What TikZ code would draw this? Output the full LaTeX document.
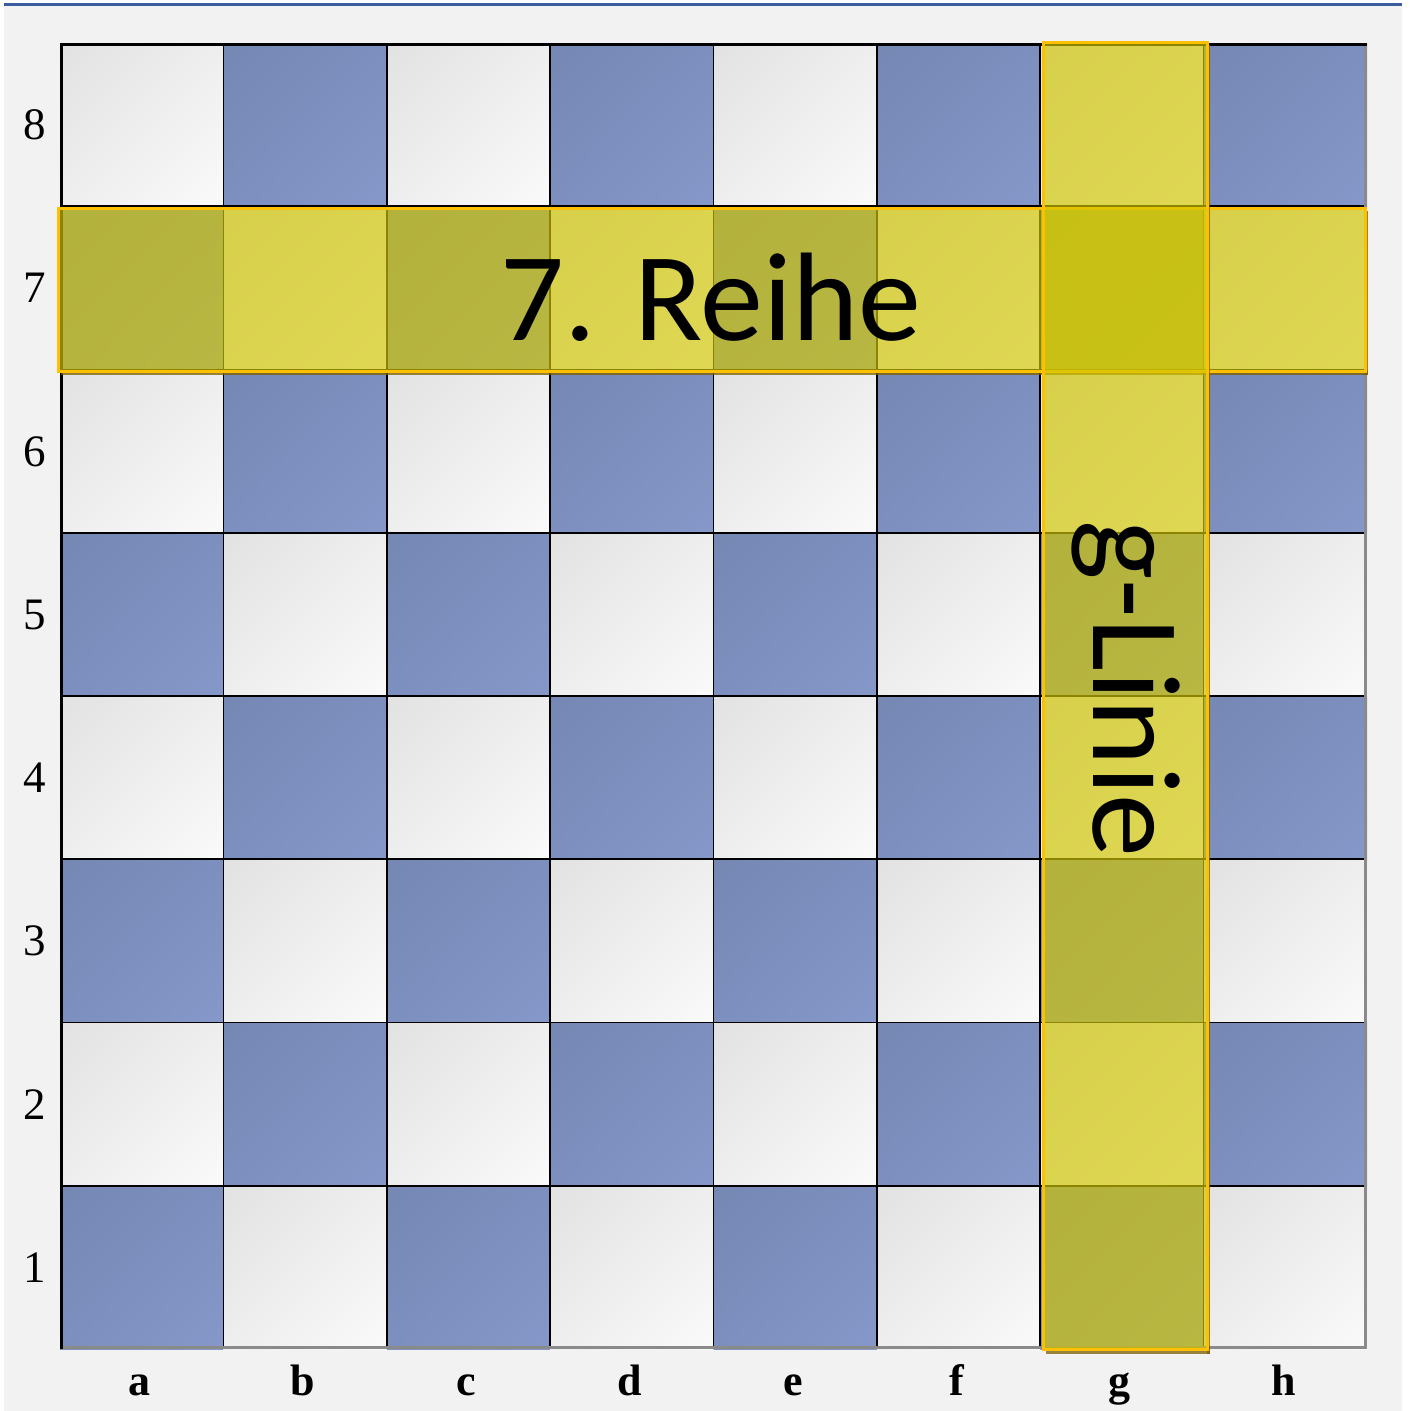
\documentclass[tikz,border=0pt]{standalone}
\usepackage{fontspec}
\usetikzlibrary{shadings}
\setmainfont{Liberation Serif}
\newfontfamily\calib{Carlito}
\definecolor{bgc}{HTML}{F2F2F2}
\definecolor{topblue}{HTML}{3A5DA0}
\definecolor{lightA}{HTML}{E2E2E2}
\definecolor{lightB}{HTML}{EEEEEE}
\definecolor{lightC}{HTML}{FAFAFA}
\definecolor{darkA}{HTML}{7587B3}
\definecolor{darkB}{HTML}{7D8FBE}
\definecolor{darkC}{HTML}{8598C9}
\definecolor{yel}{rgb}{0.825,0.78,0.0}
\definecolor{yelborder}{HTML}{FFC000}
\definecolor{shadowc}{HTML}{7A5E00}
\definecolor{edgegray}{HTML}{8A8A8A}
\tikzset{
  lightsq/.style={upper left=lightA, lower right=lightC, upper right=lightB, lower left=lightB},
  darksq/.style={upper left=darkA, lower right=darkC, upper right=darkB, lower left=darkB},
  gridline/.style={draw=black, line width=1.6pt},
  hilite/.style={fill=yel, fill opacity=0.667},
  hiliteborder/.style={draw=yelborder, line width=3pt},
  shadowstrip/.style={fill=shadowc, fill opacity=0.75},
  rowlab/.style={font=\fontsize{45}{45}\selectfont, anchor=base, inner sep=0pt},
  collab/.style={font=\fontsize{44}{44}\selectfont\bfseries, anchor=base, inner sep=0pt},
  bigtext/.style={font=\calib\fontsize{126}{126}\selectfont, anchor=base, inner sep=0pt, text=black}
}
\begin{document}
\begin{tikzpicture}[x=1pt,y=-1pt]
\useasboundingbox (0,0) rectangle (1410,1411);
\fill[white] (0,0) rectangle (1410,1411);
\fill[bgc] (4,6) rectangle (1402,1411);
\draw[topblue, line width=2.5pt] (4,4.5) -- (1402,4.5);
% squares
\foreach \c in {1,...,8}{
  \foreach \r in {1,...,8}{
    \pgfmathsetmacro\xa{60+(\c-1)*163.375}
    \pgfmathsetmacro\xb{60+\c*163.375}
    \pgfmathsetmacro\ya{43+(8-\r)*163.25}
    \pgfmathsetmacro\yb{43+(9-\r)*163.25}
    \pgfmathtruncatemacro\pr{mod(\c+\r,2)}
    \ifnum\pr=0
      \shade[darksq] (\xa,\ya) rectangle (\xb,\yb);
    \else
      \shade[lightsq] (\xa,\ya) rectangle (\xb,\yb);
    \fi
  }
}
% grid
\foreach \c in {1,...,7}{
  \draw[gridline] ({60+\c*163.375},43) -- ({60+\c*163.375},1349);
  \draw[gridline] (60,{43+\c*163.25}) -- (1367,{43+\c*163.25});
}
\draw[edgegray, line width=3pt] (1365.5,44) -- (1365.5,1347.5) -- (60,1347.5);
\draw[black, line width=3pt] (61.5,1349) -- (61.5,44.5) -- (1367,44.5);
% labels
\foreach \r in {1,...,8}{
  \node[rowlab] (row\r) at (35,{43+(8-\r)*163.25+81.6+15}) {\r};
}
\foreach \l [count=\c] in {a,b,c,d,e,f,g,h}{
  \node[collab] (col\l) at ({60+(\c-0.5)*163.375-2},1395) {\l};
}
% highlight row 7
\fill[shadowstrip] (61,371) rectangle (1368,375);
\fill[shadowstrip] (1365,211) rectangle (1368,375);
\fill[hilite] (58,208) rectangle (1365,371);
\draw[hiliteborder] (58,208) rectangle (1365,371);
% highlight column g
\fill[shadowstrip] (1046,1349) rectangle (1210,1354);
\fill[shadowstrip] (1207,45) rectangle (1210,1354);
\fill[hilite] (1043,42) rectangle (1207,1349);
\draw[hiliteborder] (1043,42) rectangle (1207,1349);
% texts
\node[bigtext] (reihe) at (711,340) {7. Reihe};
\node[bigtext, rotate=-90] (linie) at (1093,689) {g-Linie};
\end{tikzpicture}
\end{document}
